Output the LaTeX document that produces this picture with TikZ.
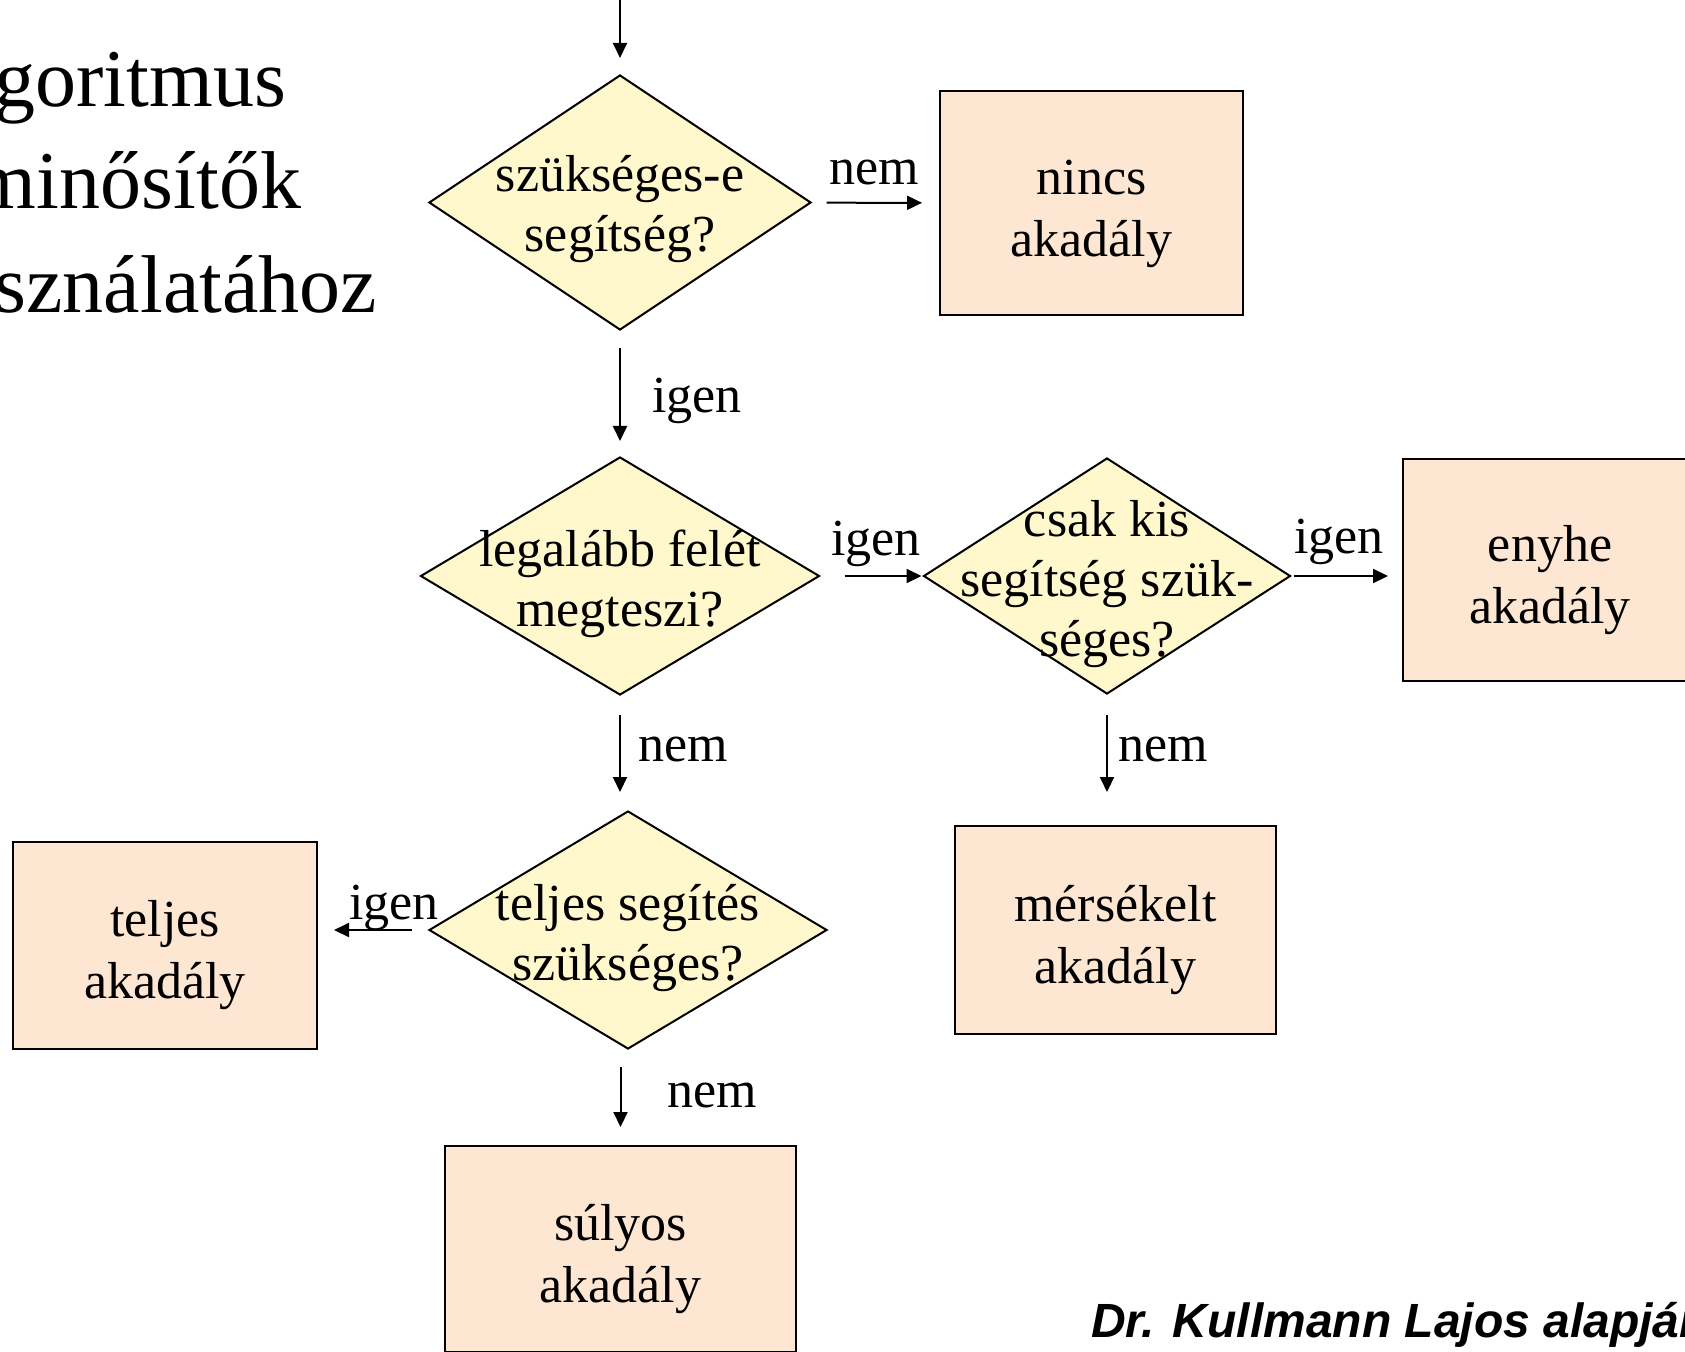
\documentclass[tikz,border=0pt]{standalone}
\usepackage{fontspec}
\setmainfont{Liberation Serif}
\newfontfamily\authorfont{Liberation Sans}
\usepackage{tikz}
\usetikzlibrary{arrows.meta,%
                shapes.geometric}

\definecolor{dontes}{HTML}{FFF8CD}
\definecolor{eredmeny}{HTML}{FDE6D2}

\begin{document}
\begin{tikzpicture}[x=1pt,y=-1pt,line width=2pt]
		\useasboundingbox (0,0) rectangle (1685,1351);
		\clip (0,0) rectangle (1685,1351);
		\tikzstyle{KerdesStyle}=[draw=black,fill=dontes,shape=diamond,inner sep=0pt]
		\tikzstyle{KerdesText}=[align=center,inner sep=0pt,yshift=-8pt,font=\fontsize{52}{60}\selectfont]
		\tikzstyle{AkadalyStyle}=[draw=black,fill=eredmeny,shape=rectangle,inner sep=0pt,align=center,%
			font=\fontsize{52}{62}\selectfont,text height=110pt,text depth=4pt]
		\tikzstyle{Felirat}=[inner sep=0pt,font=\fontsize{52}{62}\selectfont]
		\tikzstyle{EdgeStyle}=[-{Triangle[length=15pt,width=14pt]}]
		% cim
		{
			\tikzset{Felirat/.append style = {font=\fontsize{82}{102}\selectfont}}
			\node[Felirat,anchor=base east] (cim1) at (287,107) {goritmus};
			\node[Felirat,anchor=base east] (cim2) at (302,208) {minősítők};
			\node[Felirat,anchor=base east] (cim3) at (378,312) {sználatához};
		}
		% dontesek
		\node[KerdesStyle,minimum width=382pt,minimum height=255pt,%
			label={[KerdesText,yshift=1pt]center:{szükséges-e\\segítség?}}] (d1) at (620,202.5) {};
		\node[KerdesStyle,minimum width=399pt,minimum height=238pt,%
			label={[KerdesText]center:{legalább felét\\megteszi?}}] (d2) at (620,576) {};
		\node[KerdesStyle,minimum width=367pt,minimum height=236pt,%
			label={[KerdesText]center:{csak kis\\segítség szük-\\séges?}}] (d3) at (1107,576) {};
		\node[KerdesStyle,minimum width=398pt,minimum height=238pt,%
			label={[KerdesText]center:{teljes segítés\\szükséges?}}] (d4) at (628,930) {};
		% akadalyok
		\node[AkadalyStyle,minimum width=303pt,minimum height=224pt] (nincs) at (1091.5,203) {nincs\\akadály};
		\node[AkadalyStyle,minimum width=294pt,minimum height=222pt] (enyhe) at (1550,570) {enyhe\\akadály};
		\node[AkadalyStyle,minimum width=321pt,minimum height=208pt] (mersekelt) at (1115.5,930) {mérsékelt\\akadály};
		\node[AkadalyStyle,minimum width=304pt,minimum height=207pt] (teljes) at (165,945.5) {teljes\\akadály};
		\node[AkadalyStyle,minimum width=351pt,minimum height=206pt] (sulyos) at (620.5,1249) {súlyos\\akadály};
		% nyilak
		\coordinate (kezdet) at (620,-5);
		\draw[EdgeStyle,shorten >=16pt] (kezdet) -- (d1);
		\draw[EdgeStyle,shorten <=15pt,shorten >=17pt] (d1) -- (nincs);
		\draw[EdgeStyle,shorten <=17pt,shorten >=15pt] (d1) -- (d2);
		\draw[EdgeStyle,shorten <=24pt,shorten >=1pt] (d2) -- (d3);
		\draw[EdgeStyle,shorten <=2pt,shorten >=14pt] (d3.east) -- (d3.east -| enyhe.west);
		\draw[EdgeStyle,shorten <=19pt,shorten >=18pt] (d2.south) -- (d2.south |- d4.north);
		\draw[EdgeStyle,shorten <=20pt,shorten >=33pt] (d3.south) -- (d3.south |- mersekelt.north);
		\draw[EdgeStyle,shorten <=16pt,shorten >=16pt] (d4.west) -- (d4.west -| teljes.east);
		\draw[EdgeStyle,shorten <=17pt,shorten >=18pt] (sulyos.north |- d4.south) -- (sulyos.north);
		% feliratok
		\node[Felirat,anchor=base west] (nem1) at (828,185) {nem};
		\node[Felirat,anchor=base west] (igen1) at (651,412) {igen};
		\node[Felirat,anchor=base west] (igen2) at (830,555) {igen};
		\node[Felirat,anchor=base west] (igen3) at (1293,553) {igen};
		\node[Felirat,anchor=base west] (nem2) at (637,761) {nem};
		\node[Felirat,anchor=base west] (nem3) at (1117,761) {nem};
		\node[Felirat,anchor=base west] (igen4) at (348,919) {igen};
		\node[Felirat,anchor=base west] (nem4) at (666,1107) {nem};
		%\node[Felirat] at (842,1300) {};
		\node[anchor=base west,inner sep=0pt,font=\authorfont\fontsize{48}{58}\selectfont\bfseries\itshape] (szerzo) at (1090,1337) {Dr. Kullmann Lajos alapján};
	\end{tikzpicture}
\end{document}
